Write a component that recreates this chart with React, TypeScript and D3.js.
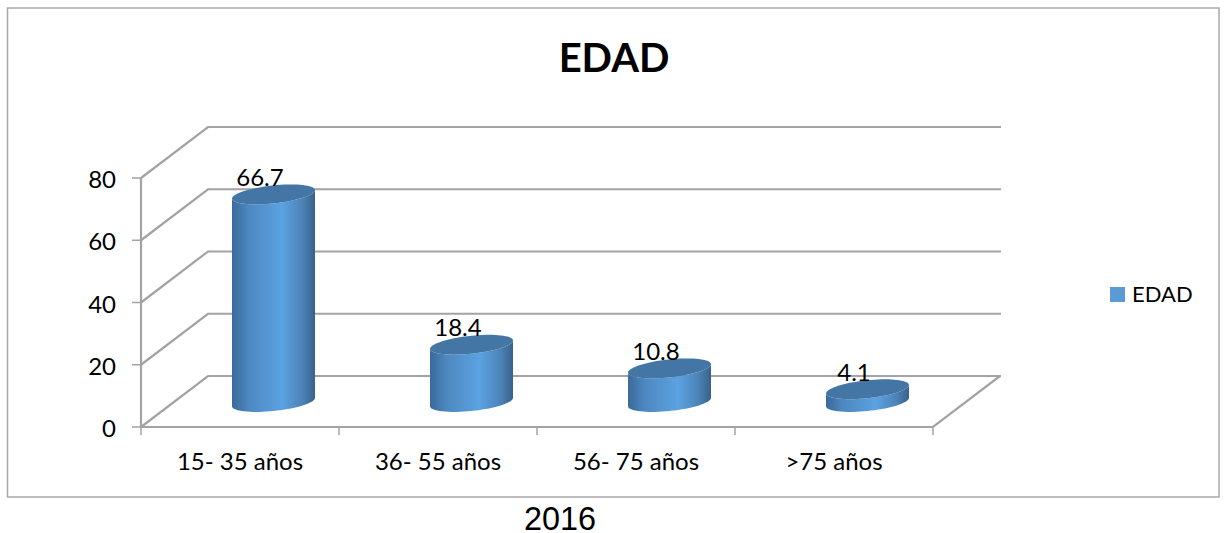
import React from 'react';
import * as d3 from 'd3';

const categories = ['15- 35 años', '36- 55 años', '56- 75 años', '>75 años'];
const values = [66.7, 18.4, 10.8, 4.1];
const valueLabels = ['66.7', '18.4', '10.8', '4.1'];
const yTicks = [0, 20, 40, 60, 80];
const seriesName = 'EDAD';
const chartTitle = 'EDAD';
const caption = '2016';

const W = 1225, H = 533;
const x = d3.scaleBand<string>().domain(categories).range([141, 933]);
const y = d3.scaleLinear().domain([0, 80]).range([427, 178]);
const DX = 67, DY = -51;
const GRID = '#a3a3a3';
const font = 'Lato, Carlito, sans-serif';

const RX = 41.5, TILT = 4.2, RY = 9;
const BASE_LIFT = 25;
const ts = d3.range(0, 1.0001, 1 / 72).map(v => v * Math.PI * 2);
const pt = (cx: number, cy: number, t: number): [number, number] => [
  cx + RX * Math.cos(t),
  cy - TILT * Math.cos(t) + RY * Math.sin(t),
];
const line = d3.line();
const capY = (value: number) => y(value) - BASE_LIFT;

function Cylinder({ cat, value }: { cat: string; value: number }) {
  const cx = x(cat)! + x.bandwidth() / 2 + 33.5;
  const base = y(0) - BASE_LIFT;
  const top = capY(value);
  const lower = ts.filter(t => t <= Math.PI).map(t => pt(cx, base, t));
  const upper = ts.filter(t => t <= Math.PI).map(t => pt(cx, top, t)).reverse();
  const body = line([...lower, ...upper]) + 'Z';
  const cap = line(ts.map(t => pt(cx, top, t))) + 'Z';
  return (
    <g>
      <path d={body} fill="url(#cyl)" />
      <path d={cap} fill="#4376a5" />
    </g>
  );
}

export default function App() {
  const [x0, x1] = x.range();
  return (
    <svg width={W} height={H} viewBox={`0 0 ${W} ${H}`}
      style={{ position: 'absolute', left: 0, top: 0, background: '#fff' }}>
      <defs>
        <linearGradient id="cyl" x1="0" x2="1" y1="0" y2="0">
          <stop offset="0" stopColor="#3a6a99" />
          <stop offset="0.2" stopColor="#4d88c0" />
          <stop offset="0.6" stopColor="#5ba2e2" />
          <stop offset="0.85" stopColor="#4c83b7" />
          <stop offset="1" stopColor="#38618a" />
        </linearGradient>
      </defs>
      <rect x={7.5} y={8} width={1211.5} height={489} fill="none" stroke="#a9a9a9" strokeWidth={1.5} />
      <text x={614} y={72} textAnchor="middle" fontFamily={font} fontWeight={700} fontSize={40} fill="#000">{chartTitle}</text>

      <g stroke={GRID} fill="none" strokeWidth={2.2}>
        {yTicks.map(t => (
          <g key={t}>
            <path d={`M${x0},${y(t)}L${x0 + DX},${y(t) + DY}L1001,${y(t) + DY}`} />
            <path d={`M${x0 - 9},${y(t)}H${x0}`} strokeWidth={1.5} />
          </g>
        ))}
        <path d={`M${x0},${y(80)}V${y(0)}H${x1}L${x1 + DX},${y(0) + DY}`} />
        {[...categories.map(c => x(c)!), x1].map((v, i) => (
          <path key={i} d={`M${v},${y(0)}v8`} strokeWidth={1.5} />
        ))}
      </g>

      {categories.map((c, i) => <Cylinder key={c} cat={c} value={values[i]} />)}

      {yTicks.map(t => (
        <text key={t} x={116} y={y(t) + 10} textAnchor="end" fontFamily={font} fontSize={24} fill="#000">{t}</text>
      ))}
      {categories.map(c => (
        <text key={c} x={x(c)! + x.bandwidth() / 2} y={470} textAnchor="middle" fontFamily={font} fontSize={24} fill="#000">{c}</text>
      ))}
      {categories.map((c, i) => (
        <text key={c} x={x(c)! + x.bandwidth() / 2 + 20} y={capY(values[i]) - 8.5} textAnchor="middle" fontFamily={font} fontSize={24} fill="#000">{valueLabels[i]}</text>
      ))}

      <rect x={1110} y={287} width={15} height={15} fill="#5b9bd5" />
      <text x={1132} y={302} fontFamily={font} fontSize={22} fill="#000">{seriesName}</text>
      <text x={560} y={530} textAnchor="middle" fontFamily="'Liberation Sans', Arial, sans-serif" fontSize={32.4} fill="#000">{caption}</text>
    </svg>
  );
}
